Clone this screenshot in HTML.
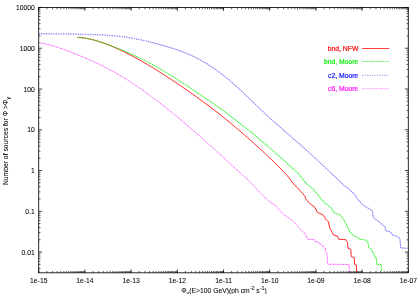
<!DOCTYPE html>
<html><head><meta charset="utf-8"><style>
html,body{margin:0;padding:0;background:#fff;}
body{width:420px;height:294px;overflow:hidden;}
svg{display:block;}
text{font-family:"Liberation Sans",sans-serif;}
</style></head><body>
<svg width="420" height="294" viewBox="0 0 420 294">
<rect width="420" height="294" fill="#fff"/>
<g fill="none" stroke-linejoin="miter" stroke-miterlimit="2.5">
<path d="M77.4 37.4 L80.4 37.6 L83.5 37.9 L86.5 38.4 L89.5 39.0 L92.6 39.7 L95.6 40.5 L98.7 41.4 L101.7 42.4 L104.7 43.5 L107.8 44.6 L110.8 45.8 L113.8 47.1 L116.9 48.5 L119.9 49.8 L123.0 51.3 L126.0 52.8 L129.0 54.3 L132.1 55.9 L135.1 57.5 L138.1 59.2 L141.2 60.9 L144.2 62.7 L147.3 64.4 L150.3 66.3 L153.3 68.1 L156.4 70.0 L159.4 71.9 L162.4 73.8 L165.5 75.7 L168.5 77.7 L171.6 79.7 L174.6 81.7 L177.6 83.7 L180.7 85.8 L183.7 87.9 L186.7 90.0 L189.8 92.1 L192.8 94.3 L195.8 96.4 L198.9 98.6 L201.9 100.9 L205.0 103.1 L208.0 105.4 L211.0 107.7 L214.1 110.0 L217.1 112.3 L220.1 114.7 L223.2 117.1 L226.2 119.6 L229.3 122.0 L232.3 124.6 L235.3 127.1 L238.4 129.7 L241.4 132.3 L244.4 134.9 L247.5 137.6 L250.5 140.3 L253.6 143.0 L256.6 145.8 L259.6 148.5 L262.7 151.3 L265.7 154.2 L268.7 157.0 L271.8 159.9 L274.8 162.8 L277.9 165.8 L280.9 168.9 L283.9 172.2 L287.0 175.5 L290.0 179.0 L292.8 183.1 L297.5 187.9 L302.3 193.1 L305.1 196.5 L305.6 198.9 L309.9 203.6 L315.0 207.5 L317.5 212.5 L323.3 215.0 L325.8 219.2 L328.3 221.7 L330.0 228.3 L333.7 235.2 L337.4 236.0 L338.6 239.2 L345.8 239.7 L347.5 242.5 L348.0 248.3 L350.8 249.2 L351.3 256.7 L354.2 257.5 L354.7 264.5 L356.3 265.0 L356.7 272.5" stroke="#ff0000" stroke-width="1.0" stroke-opacity="0.84"/><path d="M77.4 37.4 L80.4 37.6 L83.4 37.9 L86.4 38.4 L89.4 39.0 L92.4 39.7 L95.4 40.5 L98.5 41.4 L101.5 42.3 L104.5 43.3 L107.5 44.4 L110.5 45.5 L113.5 46.6 L116.5 47.8 L119.5 49.0 L122.5 50.2 L125.5 51.5 L128.5 52.8 L131.5 54.1 L134.6 55.5 L137.6 56.9 L140.6 58.4 L143.6 59.9 L146.6 61.4 L149.6 63.0 L152.6 64.6 L155.6 66.3 L158.6 68.0 L161.6 69.8 L164.6 71.6 L167.6 73.4 L170.7 75.2 L173.7 77.1 L176.7 79.0 L179.7 81.0 L182.7 82.9 L185.7 84.9 L188.7 86.8 L191.7 88.8 L194.7 90.8 L197.7 92.9 L200.7 94.9 L203.7 96.9 L206.7 99.0 L209.8 101.1 L212.8 103.2 L215.8 105.3 L218.8 107.5 L221.8 109.6 L224.8 111.8 L227.8 114.1 L230.8 116.3 L233.8 118.6 L236.8 120.9 L239.8 123.2 L242.8 125.6 L245.9 128.0 L248.9 130.4 L251.9 132.9 L254.9 135.4 L257.9 137.9 L260.9 140.4 L263.9 142.9 L266.9 145.5 L269.9 148.1 L272.9 150.7 L275.9 153.3 L278.9 156.0 L282.0 158.7 L285.0 161.4 L288.0 164.1 L291.0 166.9 L294.0 169.6 L297.0 172.4 L300.0 175.3 L304.2 181.2 L308.5 185.5 L313.2 188.9 L316.6 193.1 L321.3 199.3 L325.6 203.6 L331.7 208.3 L333.7 212.5 L340.0 215.0 L343.3 219.2 L346.7 225.0 L350.0 232.0 L353.3 235.5 L356.7 237.0 L360.0 239.2 L365.8 240.0 L368.0 242.5 L368.7 247.5 L371.7 249.2 L372.5 252.5 L373.8 253.3 L374.5 256.7 L376.2 257.5 L376.7 264.2 L381.2 264.5 L381.7 272.5" stroke="#0cf00c" stroke-width="1.05" stroke-opacity="0.8" stroke-dasharray="1.65 0.62"/><path d="M38.7 33.7 L41.7 33.7 L44.7 33.7 L47.7 33.7 L50.7 33.8 L53.7 33.8 L56.7 33.8 L59.7 33.9 L62.7 33.9 L65.7 33.9 L68.7 34.0 L71.7 34.0 L74.7 34.1 L77.7 34.2 L80.7 34.3 L83.7 34.3 L86.7 34.4 L89.8 34.5 L92.8 34.6 L95.8 34.7 L98.8 34.8 L101.8 35.0 L104.8 35.1 L107.8 35.3 L110.8 35.5 L113.8 35.8 L116.8 36.0 L119.8 36.4 L122.8 36.7 L125.8 37.1 L128.8 37.6 L131.8 38.1 L134.8 38.6 L137.8 39.2 L140.8 39.9 L143.8 40.5 L146.8 41.2 L149.8 41.9" stroke="#3030ff" stroke-width="0.9" stroke-opacity="0.12"/><path d="M38.7 33.7 L41.7 33.7 L44.7 33.7 L47.7 33.7 L50.7 33.8 L53.7 33.8 L56.7 33.8 L59.7 33.9 L62.7 33.9 L65.7 33.9 L68.7 34.0 L71.7 34.0 L74.7 34.1 L77.7 34.2 L80.7 34.3 L83.7 34.3 L86.7 34.4 L89.8 34.5 L92.8 34.6 L95.8 34.7 L98.8 34.8 L101.8 35.0 L104.8 35.1 L107.8 35.3 L110.8 35.5 L113.8 35.8 L116.8 36.0 L119.8 36.4 L122.8 36.7 L125.8 37.1 L128.8 37.6 L131.8 38.1 L134.8 38.6 L137.8 39.2 L140.8 39.9 L143.8 40.5 L146.8 41.2 L149.8 41.9" stroke="#2020f0" stroke-width="1.35" stroke-opacity="0.56" stroke-dasharray="1.05 1.39"/><path d="M149.8 41.9 L152.8 42.7 L155.8 43.5 L158.8 44.3 L161.8 45.1 L164.8 46.0 L167.8 46.8 L170.8 47.8 L173.8 48.7 L176.8 49.7 L179.8 50.8 L182.8 51.9 L185.8 53.1 L188.8 54.4 L191.9 55.7 L194.9 57.2 L197.9 58.7 L200.9 60.3 L203.9 62.0 L206.9 63.8 L209.9 65.7 L212.9 67.7 L215.9 69.8 L218.9 71.9 L221.9 74.2 L224.9 76.6 L227.9 79.0 L230.9 81.5 L233.9 84.2 L236.9 86.9 L239.9 89.6 L242.9 92.4 L245.9 95.3 L248.9 98.2 L251.9 101.0 L254.9 103.9 L257.9 106.8 L260.9 109.7 L263.9 112.5 L266.9 115.3 L269.9 118.1 L272.9 120.8 L275.9 123.4 L278.9 126.1 L281.9 128.7 L284.9 131.3 L287.9 133.9 L290.9 136.5 L293.9 139.2 L297.0 141.8 L300.0 144.4 L303.0 147.1 L306.0 149.8 L309.0 152.5 L312.0 155.2 L315.0 158.0 L318.0 160.8 L321.0 163.6 L324.0 166.4 L327.0 169.2 L330.0 172.0 L333.0 174.9 L336.0 177.7 L339.0 180.6 L342.0 183.5 L345.0 186.4 L348.3 188.3 L350.0 190.3 L355.0 194.5 L356.7 198.0 L362.5 204.7 L368.3 208.3 L372.2 210.8 L373.3 217.5 L376.7 220.0 L381.7 224.2 L385.0 226.7 L385.8 230.8 L390.8 232.0 L392.5 235.0 L396.7 236.3 L399.2 238.0 L400.0 239.7 L400.8 248.0 L407.5 248.3" stroke="#3030ff" stroke-width="0.95" stroke-opacity="0.3"/><path d="M149.8 41.9 L152.8 42.7 L155.8 43.5 L158.8 44.3 L161.8 45.1 L164.8 46.0 L167.8 46.8 L170.8 47.8 L173.8 48.7 L176.8 49.7 L179.8 50.8 L182.8 51.9 L185.8 53.1 L188.8 54.4 L191.9 55.7 L194.9 57.2 L197.9 58.7 L200.9 60.3 L203.9 62.0 L206.9 63.8 L209.9 65.7 L212.9 67.7 L215.9 69.8 L218.9 71.9 L221.9 74.2 L224.9 76.6 L227.9 79.0 L230.9 81.5 L233.9 84.2 L236.9 86.9 L239.9 89.6 L242.9 92.4 L245.9 95.3 L248.9 98.2 L251.9 101.0 L254.9 103.9 L257.9 106.8 L260.9 109.7 L263.9 112.5 L266.9 115.3 L269.9 118.1 L272.9 120.8 L275.9 123.4 L278.9 126.1 L281.9 128.7 L284.9 131.3 L287.9 133.9 L290.9 136.5 L293.9 139.2 L297.0 141.8 L300.0 144.4 L303.0 147.1 L306.0 149.8 L309.0 152.5 L312.0 155.2 L315.0 158.0 L318.0 160.8 L321.0 163.6 L324.0 166.4 L327.0 169.2 L330.0 172.0 L333.0 174.9 L336.0 177.7 L339.0 180.6 L342.0 183.5 L345.0 186.4 L348.3 188.3 L350.0 190.3 L355.0 194.5 L356.7 198.0 L362.5 204.7 L368.3 208.3 L372.2 210.8 L373.3 217.5 L376.7 220.0 L381.7 224.2 L385.0 226.7 L385.8 230.8 L390.8 232.0 L392.5 235.0 L396.7 236.3 L399.2 238.0 L400.0 239.7 L400.8 248.0 L407.5 248.3" stroke="#2020f0" stroke-width="1.15" stroke-opacity="0.42" stroke-dasharray="1.15 1.29"/><path d="M38.7 42.5 L41.7 43.1 L44.8 43.8 L47.8 44.5 L50.8 45.3 L53.8 46.2 L56.9 47.1 L59.9 48.1 L62.9 49.2 L65.9 50.2 L69.0 51.4 L72.0 52.5 L75.0 53.7 L78.1 55.0 L81.1 56.2 L84.1 57.5 L87.1 58.8 L90.2 60.1 L93.2 61.5 L96.2 62.9 L99.3 64.3 L102.3 65.8 L105.3 67.3 L108.3 68.9 L111.4 70.5 L114.4 72.2 L117.4 73.9 L120.4 75.7 L123.5 77.5 L126.5 79.4 L129.5 81.3 L132.6 83.3 L135.6 85.3 L138.6 87.3 L141.6 89.4 L144.7 91.6 L147.7 93.8 L150.7 96.0 L153.7 98.3 L156.8 100.6 L159.8 102.9 L162.8 105.3 L165.9 107.6 L168.9 110.1 L171.9 112.5 L174.9 115.0 L178.0 117.5 L181.0 120.0 L184.0 122.5 L187.0 125.1 L190.1 127.7 L193.1 130.3 L196.1 133.0 L199.2 135.6 L202.2 138.3 L205.2 141.0 L208.2 143.8 L211.3 146.5 L214.3 149.3 L217.3 152.1 L220.4 154.8 L223.4 157.6 L226.4 160.4 L229.4 163.1 L232.5 165.9 L235.5 168.6 L238.5 171.4 L241.5 174.1 L244.6 176.8 L247.6 179.4 L250.0 181.7 L258.3 190.8 L266.7 199.2 L270.0 202.0 L275.0 205.0 L283.3 214.2 L291.7 220.0 L296.7 225.0 L301.7 230.8 L305.0 233.3 L307.5 239.2 L314.2 239.7 L315.0 241.7 L319.2 242.2 L320.0 244.2 L322.5 245.0 L323.3 247.5 L325.3 248.3 L325.8 252.5 L327.0 253.3 L327.5 264.2 L349.2 264.5 L349.5 272.5" stroke="#ff30ff" stroke-width="0.85" stroke-opacity="0.8" stroke-dasharray="2.8 0.4 0.8 0.4"/><path d="M362.2 48.5H389.3" stroke="#ff0000" stroke-width="0.9" stroke-opacity="0.84"/><path d="M362.2 61.55H389.3" stroke="#00ee00" stroke-width="0.85" stroke-opacity="0.75" stroke-dasharray="1.5 0.77"/><path d="M362.2 75.3H389.3" stroke="#2020f0" stroke-width="0.95" stroke-opacity="0.6" stroke-dasharray="1.05 1.39"/><path d="M362.2 88.7H389.3" stroke="#ff30ff" stroke-width="0.85" stroke-opacity="0.5" stroke-dasharray="2.8 0.5 0.7 0.5"/>
</g>
<g fill="none" stroke="#000">
<path d="M38.70 272.80L38.70 271.00M38.70 7.45L38.70 9.25M46.84 272.80L46.84 271.00M46.84 7.45L46.84 9.25M52.61 272.80L52.61 271.00M52.61 7.45L52.61 9.25M57.08 272.80L57.08 271.00M57.08 7.45L57.08 9.25M60.74 272.80L60.74 271.00M60.74 7.45L60.74 9.25M63.84 272.80L63.84 271.00M63.84 7.45L63.84 9.25M66.52 272.80L66.52 271.00M66.52 7.45L66.52 9.25M68.88 272.80L68.88 271.00M68.88 7.45L68.88 9.25M70.99 272.80L70.99 271.00M70.99 7.45L70.99 9.25M72.90 272.80L72.90 271.00M72.90 7.45L72.90 9.25M74.65 272.80L74.65 271.00M74.65 7.45L74.65 9.25M76.26 272.80L76.26 271.00M76.26 7.45L76.26 9.25M77.74 272.80L77.74 271.00M77.74 7.45L77.74 9.25M79.13 272.80L79.13 271.00M79.13 7.45L79.13 9.25M80.42 272.80L80.42 271.00M80.42 7.45L80.42 9.25M81.64 272.80L81.64 271.00M81.64 7.45L81.64 9.25M82.79 272.80L82.79 271.00M82.79 7.45L82.79 9.25M83.87 272.80L83.87 271.00M83.87 7.45L83.87 9.25M84.90 272.80L84.90 271.00M84.90 7.45L84.90 9.25M93.04 272.80L93.04 271.00M93.04 7.45L93.04 9.25M98.81 272.80L98.81 271.00M98.81 7.45L98.81 9.25M103.28 272.80L103.28 271.00M103.28 7.45L103.28 9.25M106.94 272.80L106.94 271.00M106.94 7.45L106.94 9.25M110.04 272.80L110.04 271.00M110.04 7.45L110.04 9.25M112.72 272.80L112.72 271.00M112.72 7.45L112.72 9.25M115.08 272.80L115.08 271.00M115.08 7.45L115.08 9.25M117.19 272.80L117.19 271.00M117.19 7.45L117.19 9.25M119.10 272.80L119.10 271.00M119.10 7.45L119.10 9.25M120.85 272.80L120.85 271.00M120.85 7.45L120.85 9.25M122.46 272.80L122.46 271.00M122.46 7.45L122.46 9.25M123.94 272.80L123.94 271.00M123.94 7.45L123.94 9.25M125.33 272.80L125.33 271.00M125.33 7.45L125.33 9.25M126.62 272.80L126.62 271.00M126.62 7.45L126.62 9.25M127.84 272.80L127.84 271.00M127.84 7.45L127.84 9.25M128.99 272.80L128.99 271.00M128.99 7.45L128.99 9.25M130.07 272.80L130.07 271.00M130.07 7.45L130.07 9.25M131.10 272.80L131.10 271.00M131.10 7.45L131.10 9.25M139.24 272.80L139.24 271.00M139.24 7.45L139.24 9.25M145.01 272.80L145.01 271.00M145.01 7.45L145.01 9.25M149.48 272.80L149.48 271.00M149.48 7.45L149.48 9.25M153.14 272.80L153.14 271.00M153.14 7.45L153.14 9.25M156.24 272.80L156.24 271.00M156.24 7.45L156.24 9.25M158.92 272.80L158.92 271.00M158.92 7.45L158.92 9.25M161.28 272.80L161.28 271.00M161.28 7.45L161.28 9.25M163.39 272.80L163.39 271.00M163.39 7.45L163.39 9.25M165.30 272.80L165.30 271.00M165.30 7.45L165.30 9.25M167.05 272.80L167.05 271.00M167.05 7.45L167.05 9.25M168.66 272.80L168.66 271.00M168.66 7.45L168.66 9.25M170.14 272.80L170.14 271.00M170.14 7.45L170.14 9.25M171.53 272.80L171.53 271.00M171.53 7.45L171.53 9.25M172.82 272.80L172.82 271.00M172.82 7.45L172.82 9.25M174.04 272.80L174.04 271.00M174.04 7.45L174.04 9.25M175.19 272.80L175.19 271.00M175.19 7.45L175.19 9.25M176.27 272.80L176.27 271.00M176.27 7.45L176.27 9.25M177.30 272.80L177.30 271.00M177.30 7.45L177.30 9.25M185.44 272.80L185.44 271.00M185.44 7.45L185.44 9.25M191.21 272.80L191.21 271.00M191.21 7.45L191.21 9.25M195.68 272.80L195.68 271.00M195.68 7.45L195.68 9.25M199.34 272.80L199.34 271.00M199.34 7.45L199.34 9.25M202.44 272.80L202.44 271.00M202.44 7.45L202.44 9.25M205.12 272.80L205.12 271.00M205.12 7.45L205.12 9.25M207.48 272.80L207.48 271.00M207.48 7.45L207.48 9.25M209.59 272.80L209.59 271.00M209.59 7.45L209.59 9.25M211.50 272.80L211.50 271.00M211.50 7.45L211.50 9.25M213.25 272.80L213.25 271.00M213.25 7.45L213.25 9.25M214.86 272.80L214.86 271.00M214.86 7.45L214.86 9.25M216.34 272.80L216.34 271.00M216.34 7.45L216.34 9.25M217.73 272.80L217.73 271.00M217.73 7.45L217.73 9.25M219.02 272.80L219.02 271.00M219.02 7.45L219.02 9.25M220.24 272.80L220.24 271.00M220.24 7.45L220.24 9.25M221.39 272.80L221.39 271.00M221.39 7.45L221.39 9.25M222.47 272.80L222.47 271.00M222.47 7.45L222.47 9.25M223.50 272.80L223.50 271.00M223.50 7.45L223.50 9.25M231.64 272.80L231.64 271.00M231.64 7.45L231.64 9.25M237.41 272.80L237.41 271.00M237.41 7.45L237.41 9.25M241.88 272.80L241.88 271.00M241.88 7.45L241.88 9.25M245.54 272.80L245.54 271.00M245.54 7.45L245.54 9.25M248.64 272.80L248.64 271.00M248.64 7.45L248.64 9.25M251.32 272.80L251.32 271.00M251.32 7.45L251.32 9.25M253.68 272.80L253.68 271.00M253.68 7.45L253.68 9.25M255.79 272.80L255.79 271.00M255.79 7.45L255.79 9.25M257.70 272.80L257.70 271.00M257.70 7.45L257.70 9.25M259.45 272.80L259.45 271.00M259.45 7.45L259.45 9.25M261.06 272.80L261.06 271.00M261.06 7.45L261.06 9.25M262.54 272.80L262.54 271.00M262.54 7.45L262.54 9.25M263.93 272.80L263.93 271.00M263.93 7.45L263.93 9.25M265.22 272.80L265.22 271.00M265.22 7.45L265.22 9.25M266.44 272.80L266.44 271.00M266.44 7.45L266.44 9.25M267.59 272.80L267.59 271.00M267.59 7.45L267.59 9.25M268.67 272.80L268.67 271.00M268.67 7.45L268.67 9.25M269.70 272.80L269.70 271.00M269.70 7.45L269.70 9.25M277.84 272.80L277.84 271.00M277.84 7.45L277.84 9.25M283.61 272.80L283.61 271.00M283.61 7.45L283.61 9.25M288.08 272.80L288.08 271.00M288.08 7.45L288.08 9.25M291.74 272.80L291.74 271.00M291.74 7.45L291.74 9.25M294.84 272.80L294.84 271.00M294.84 7.45L294.84 9.25M297.52 272.80L297.52 271.00M297.52 7.45L297.52 9.25M299.88 272.80L299.88 271.00M299.88 7.45L299.88 9.25M301.99 272.80L301.99 271.00M301.99 7.45L301.99 9.25M303.90 272.80L303.90 271.00M303.90 7.45L303.90 9.25M305.65 272.80L305.65 271.00M305.65 7.45L305.65 9.25M307.26 272.80L307.26 271.00M307.26 7.45L307.26 9.25M308.74 272.80L308.74 271.00M308.74 7.45L308.74 9.25M310.13 272.80L310.13 271.00M310.13 7.45L310.13 9.25M311.42 272.80L311.42 271.00M311.42 7.45L311.42 9.25M312.64 272.80L312.64 271.00M312.64 7.45L312.64 9.25M313.79 272.80L313.79 271.00M313.79 7.45L313.79 9.25M314.87 272.80L314.87 271.00M314.87 7.45L314.87 9.25M315.90 272.80L315.90 271.00M315.90 7.45L315.90 9.25M324.04 272.80L324.04 271.00M324.04 7.45L324.04 9.25M329.81 272.80L329.81 271.00M329.81 7.45L329.81 9.25M334.28 272.80L334.28 271.00M334.28 7.45L334.28 9.25M337.94 272.80L337.94 271.00M337.94 7.45L337.94 9.25M341.04 272.80L341.04 271.00M341.04 7.45L341.04 9.25M343.72 272.80L343.72 271.00M343.72 7.45L343.72 9.25M346.08 272.80L346.08 271.00M346.08 7.45L346.08 9.25M348.19 272.80L348.19 271.00M348.19 7.45L348.19 9.25M350.10 272.80L350.10 271.00M350.10 7.45L350.10 9.25M351.85 272.80L351.85 271.00M351.85 7.45L351.85 9.25M353.46 272.80L353.46 271.00M353.46 7.45L353.46 9.25M354.94 272.80L354.94 271.00M354.94 7.45L354.94 9.25M356.33 272.80L356.33 271.00M356.33 7.45L356.33 9.25M357.62 272.80L357.62 271.00M357.62 7.45L357.62 9.25M358.84 272.80L358.84 271.00M358.84 7.45L358.84 9.25M359.99 272.80L359.99 271.00M359.99 7.45L359.99 9.25M361.07 272.80L361.07 271.00M361.07 7.45L361.07 9.25M362.10 272.80L362.10 271.00M362.10 7.45L362.10 9.25M370.24 272.80L370.24 271.00M370.24 7.45L370.24 9.25M376.01 272.80L376.01 271.00M376.01 7.45L376.01 9.25M380.48 272.80L380.48 271.00M380.48 7.45L380.48 9.25M384.14 272.80L384.14 271.00M384.14 7.45L384.14 9.25M387.24 272.80L387.24 271.00M387.24 7.45L387.24 9.25M389.92 272.80L389.92 271.00M389.92 7.45L389.92 9.25M392.28 272.80L392.28 271.00M392.28 7.45L392.28 9.25M394.39 272.80L394.39 271.00M394.39 7.45L394.39 9.25M396.30 272.80L396.30 271.00M396.30 7.45L396.30 9.25M398.05 272.80L398.05 271.00M398.05 7.45L398.05 9.25M399.66 272.80L399.66 271.00M399.66 7.45L399.66 9.25M401.14 272.80L401.14 271.00M401.14 7.45L401.14 9.25M402.53 272.80L402.53 271.00M402.53 7.45L402.53 9.25M403.82 272.80L403.82 271.00M403.82 7.45L403.82 9.25M405.04 272.80L405.04 271.00M405.04 7.45L405.04 9.25M406.19 272.80L406.19 271.00M406.19 7.45L406.19 9.25M407.27 272.80L407.27 271.00M407.27 7.45L407.27 9.25M38.70 268.29L40.50 268.29M408.30 268.29L406.50 268.29M38.70 264.34L40.50 264.34M408.30 264.34L406.50 264.34M38.70 261.11L40.50 261.11M408.30 261.11L406.50 261.11M38.70 258.39L40.50 258.39M408.30 258.39L406.50 258.39M38.70 256.02L40.50 256.02M408.30 256.02L406.50 256.02M38.70 253.94L40.50 253.94M408.30 253.94L406.50 253.94M38.70 239.80L40.50 239.80M408.30 239.80L406.50 239.80M38.70 232.62L40.50 232.62M408.30 232.62L406.50 232.62M38.70 227.52L40.50 227.52M408.30 227.52L406.50 227.52M38.70 223.57L40.50 223.57M408.30 223.57L406.50 223.57M38.70 220.34L40.50 220.34M408.30 220.34L406.50 220.34M38.70 217.62L40.50 217.62M408.30 217.62L406.50 217.62M38.70 215.25L40.50 215.25M408.30 215.25L406.50 215.25M38.70 213.17L40.50 213.17M408.30 213.17L406.50 213.17M38.70 199.03L40.50 199.03M408.30 199.03L406.50 199.03M38.70 191.85L40.50 191.85M408.30 191.85L406.50 191.85M38.70 186.75L40.50 186.75M408.30 186.75L406.50 186.75M38.70 182.80L40.50 182.80M408.30 182.80L406.50 182.80M38.70 179.57L40.50 179.57M408.30 179.57L406.50 179.57M38.70 176.85L40.50 176.85M408.30 176.85L406.50 176.85M38.70 174.48L40.50 174.48M408.30 174.48L406.50 174.48M38.70 172.40L40.50 172.40M408.30 172.40L406.50 172.40M38.70 158.26L40.50 158.26M408.30 158.26L406.50 158.26M38.70 151.08L40.50 151.08M408.30 151.08L406.50 151.08M38.70 145.98L40.50 145.98M408.30 145.98L406.50 145.98M38.70 142.03L40.50 142.03M408.30 142.03L406.50 142.03M38.70 138.80L40.50 138.80M408.30 138.80L406.50 138.80M38.70 136.08L40.50 136.08M408.30 136.08L406.50 136.08M38.70 133.71L40.50 133.71M408.30 133.71L406.50 133.71M38.70 131.63L40.50 131.63M408.30 131.63L406.50 131.63M38.70 117.49L40.50 117.49M408.30 117.49L406.50 117.49M38.70 110.31L40.50 110.31M408.30 110.31L406.50 110.31M38.70 105.21L40.50 105.21M408.30 105.21L406.50 105.21M38.70 101.26L40.50 101.26M408.30 101.26L406.50 101.26M38.70 98.03L40.50 98.03M408.30 98.03L406.50 98.03M38.70 95.31L40.50 95.31M408.30 95.31L406.50 95.31M38.70 92.94L40.50 92.94M408.30 92.94L406.50 92.94M38.70 90.86L40.50 90.86M408.30 90.86L406.50 90.86M38.70 76.72L40.50 76.72M408.30 76.72L406.50 76.72M38.70 69.54L40.50 69.54M408.30 69.54L406.50 69.54M38.70 64.44L40.50 64.44M408.30 64.44L406.50 64.44M38.70 60.49L40.50 60.49M408.30 60.49L406.50 60.49M38.70 57.26L40.50 57.26M408.30 57.26L406.50 57.26M38.70 54.54L40.50 54.54M408.30 54.54L406.50 54.54M38.70 52.17L40.50 52.17M408.30 52.17L406.50 52.17M38.70 50.09L40.50 50.09M408.30 50.09L406.50 50.09M38.70 35.95L40.50 35.95M408.30 35.95L406.50 35.95M38.70 28.77L40.50 28.77M408.30 28.77L406.50 28.77M38.70 23.67L40.50 23.67M408.30 23.67L406.50 23.67M38.70 19.72L40.50 19.72M408.30 19.72L406.50 19.72M38.70 16.49L40.50 16.49M408.30 16.49L406.50 16.49M38.70 13.77L40.50 13.77M408.30 13.77L406.50 13.77M38.70 11.40L40.50 11.40M408.30 11.40L406.50 11.40M38.70 9.32L40.50 9.32M408.30 9.32L406.50 9.32" stroke-width="0.75" stroke-opacity="0.85"/>
<path d="M38.70 272.80L38.70 269.40M38.70 7.45L38.70 10.85M84.90 272.80L84.90 269.40M84.90 7.45L84.90 10.85M131.10 272.80L131.10 269.40M131.10 7.45L131.10 10.85M177.30 272.80L177.30 269.40M177.30 7.45L177.30 10.85M223.50 272.80L223.50 269.40M223.50 7.45L223.50 10.85M269.70 272.80L269.70 269.40M269.70 7.45L269.70 10.85M315.90 272.80L315.90 269.40M315.90 7.45L315.90 10.85M362.10 272.80L362.10 269.40M362.10 7.45L362.10 10.85M408.30 272.80L408.30 269.40M408.30 7.45L408.30 10.85M38.70 252.07L42.10 252.07M408.30 252.07L404.90 252.07M38.70 211.30L42.10 211.30M408.30 211.30L404.90 211.30M38.70 170.53L42.10 170.53M408.30 170.53L404.90 170.53M38.70 129.76L42.10 129.76M408.30 129.76L404.90 129.76M38.70 88.99L42.10 88.99M408.30 88.99L404.90 88.99M38.70 48.22L42.10 48.22M408.30 48.22L404.90 48.22M38.70 7.45L42.10 7.45M408.30 7.45L404.90 7.45" stroke-width="0.8" stroke-opacity="0.9"/>
<rect x="38.7" y="7.45" width="369.6" height="265.35" stroke-width="0.9" stroke-opacity="0.92"/>
</g>
<defs><filter id="tb" x="-5%" y="-5%" width="110%" height="110%" color-interpolation-filters="sRGB"><feGaussianBlur stdDeviation="0.28"/></filter></defs>
<g fill="#000" stroke="#000" stroke-width="0.06" font-size="6.5" filter="url(#tb)"><text transform="translate(34.75 10.00) scale(0.955 1)" font-size="7.1" text-anchor="end">10000</text><text transform="translate(34.75 50.77) scale(0.955 1)" font-size="7.1" text-anchor="end">1000</text><text transform="translate(34.75 91.54) scale(0.955 1)" font-size="7.1" text-anchor="end">100</text><text transform="translate(34.75 132.31) scale(0.955 1)" font-size="7.1" text-anchor="end">10</text><text transform="translate(34.75 173.08) scale(0.955 1)" font-size="7.1" text-anchor="end">1</text><text transform="translate(34.75 213.85) scale(0.955 1)" font-size="7.1" text-anchor="end">0.1</text><text transform="translate(34.75 254.62) scale(0.955 1)" font-size="7.1" text-anchor="end">0.01</text><text transform="translate(38.75 282.70) scale(0.955 1)" font-size="7.1" text-anchor="middle">1e-15</text><text transform="translate(84.95 282.70) scale(0.955 1)" font-size="7.1" text-anchor="middle">1e-14</text><text transform="translate(131.15 282.70) scale(0.955 1)" font-size="7.1" text-anchor="middle">1e-13</text><text transform="translate(177.35 282.70) scale(0.955 1)" font-size="7.1" text-anchor="middle">1e-12</text><text transform="translate(223.55 282.70) scale(0.955 1)" font-size="7.1" text-anchor="middle">1e-11</text><text transform="translate(269.75 282.70) scale(0.955 1)" font-size="7.1" text-anchor="middle">1e-10</text><text transform="translate(315.95 282.70) scale(0.955 1)" font-size="7.1" text-anchor="middle">1e-09</text><text transform="translate(362.15 282.70) scale(0.955 1)" font-size="7.1" text-anchor="middle">1e-08</text><text transform="translate(408.35 282.70) scale(0.955 1)" font-size="7.1" text-anchor="middle">1e-07</text><text x="358.3" y="50.70" text-anchor="end" font-size="6.8" fill="#ff1010" stroke="#ff1010" stroke-width="0.22">bnd, NFW</text><text x="358.3" y="64.10" text-anchor="end" font-size="6.8" fill="#10f010" stroke="#10f010" stroke-width="0.22">bnd, Moore</text><text x="358.3" y="77.50" text-anchor="end" font-size="6.8" fill="#1818ff" stroke="#1818ff" stroke-width="0.22">c2, Moore</text><text x="358.3" y="90.90" text-anchor="end" font-size="6.8" fill="#ff18ff" stroke="#ff18ff" stroke-width="0.22">c6, Moore</text>
<text transform="translate(224.0 292.9) scale(0.97 1)" font-size="7" text-anchor="middle">&#934;<tspan font-size="5.6" dy="1.6">&#947;</tspan><tspan dy="-1.6">(E&gt;100 GeV)(ph cm</tspan><tspan font-size="5.6" dy="-2.7">-2</tspan><tspan dy="2.7"> s</tspan><tspan font-size="5.6" dy="-2.7">-1</tspan><tspan dy="2.7">)</tspan></text>
<text transform="translate(8.35 141) rotate(-90) scale(0.97 1)" font-size="7" text-anchor="middle">Number of sources for &#934; &gt;&#934;<tspan font-size="5.6" dy="2.1">&#947;</tspan></text>
</g>
</svg>
</body></html>
